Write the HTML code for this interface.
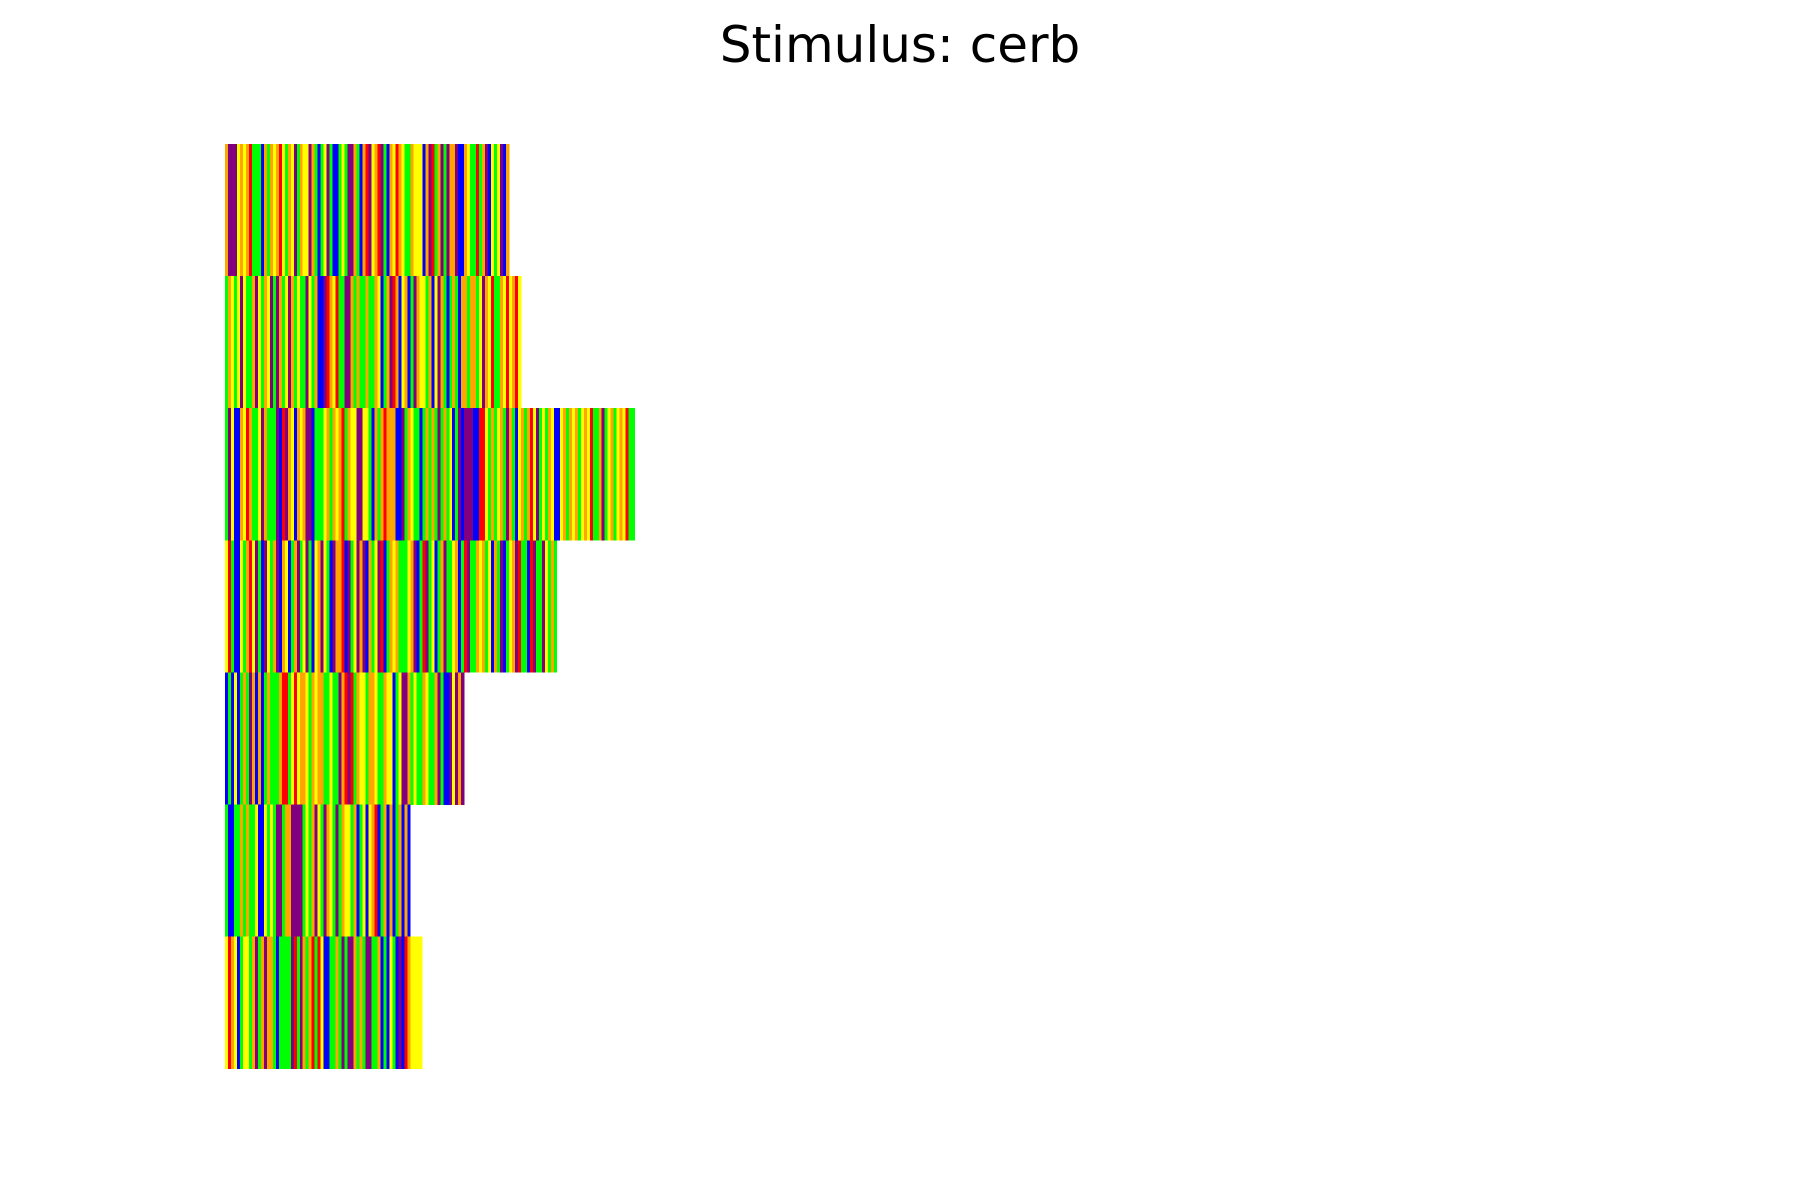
<!DOCTYPE html>
<html><head><meta charset="utf-8"><style>
html,body{margin:0;padding:0;background:#fff;}
svg{display:block;}
</style></head><body>
<svg id="chart" width="1800" height="1200" viewBox="0 0 1800 1200" xmlns="http://www.w3.org/2000/svg" shape-rendering="crispEdges">
<rect x="0" y="0" width="1800" height="1200" fill="#ffffff"/>
<text x="900" y="62" text-anchor="middle" font-family="DejaVu Sans, Liberation Sans, sans-serif" font-size="50" fill="#000">Stimulus: cerb</text>
<g id="rows"></g>
</svg>
<script>
const rowLabels = ["trial-1","trial-2","trial-3","trial-4","trial-5","trial-6","trial-7"];
const row1 = "OPPPYOYORGGGBOGOYORYGOYPGOYYPOGBGYPGBBGYGPPOGBORPYORPGBOYROYGGOYYYBOPRGOPGPOOPBBOYGGRGOPBYGYPBO";
const row2 = "GOYGYPYGGOPYGOYPGPOGYPOGYGGPYGOBBPROYRGGPPOGOGGOGGOYBGOPROBYOBGPOYYGOBYPOGBGOGBOOGOOGYPOYRGGOYRYORY";
const row3 = "GPYBBOYROGGYPOGGGPBRPOYBOYOPPBGGGYOGOYORGOYYPPYYGBOGOROOOBBPGOYGGBGOGOGPGOGYBGPBPPPBBRRYGOGYOGPOGBYOGORYPGYGOYBBYOGOYOGYOYRGGOPGYOGYOYRGG";
const row4 = "YRGBBYGORYPGBPYGOPBOYBGOPGYPGBYOPYGBPOORBPGYPOPBOGYPRBGOYOGGGYOPBGRPGYBGOPGGYOBGRPGGOYOGYBOGPBGYOPRGGBRPGGPYGOG";
const row5 = "BGBYBGOGPOBOBGOGGGORRGYRYOOYGOYOOGGYGGPORPRGOYYGOOYGGOYYBGYPPOGYGGOYGGOPGBBPYPOP";
const row6 = "GBBGGOGOGGYBBYGYGPPGOOPPPPGYGOPYGPOYGPGOYYGOBGYBYORBGOBOBGOBOB";
const row7 = "YROYBGYYGOPGOPOOGBGGGGPRGPOGORGRYBBGGOGPGPPOGOGPPGGOBGBYGBPBROYYYY";
const rows = [row1,row2,row3,row4,row5,row6,row7];
const colorMap = {P:"#800080",Y:"#ffff00",G:"#00ff00",O:"#ffa500",R:"#ff0000",B:"#0000ff"};

const X0 = 225, UNIT = 2.99, Y0 = 144, ROWH = 132.1;
function xScale(i){ return X0 + i*UNIT; }
function yScale(r){ return Y0 + r*ROWH; }

const g = document.getElementById('rows');
const NS = "http://www.w3.org/2000/svg";
rows.forEach((seq, r) => {
  const rg = document.createElementNS(NS,'g');
  
  
  for (let i = 0; i < seq.length; i++) {
    const rect = document.createElementNS(NS,'rect');
    rect.setAttribute('x', xScale(i));
    rect.setAttribute('y', yScale(r));
    rect.setAttribute('width', xScale(i+1) - xScale(i) + 0.3);
    rect.setAttribute('height', yScale(r+1) - yScale(r) + 0.3);
    rect.setAttribute('fill', colorMap[seq[i]] || "#ffffff");
    
    
    rg.appendChild(rect);
  }
  g.appendChild(rg);
});
</script>
</body></html>
